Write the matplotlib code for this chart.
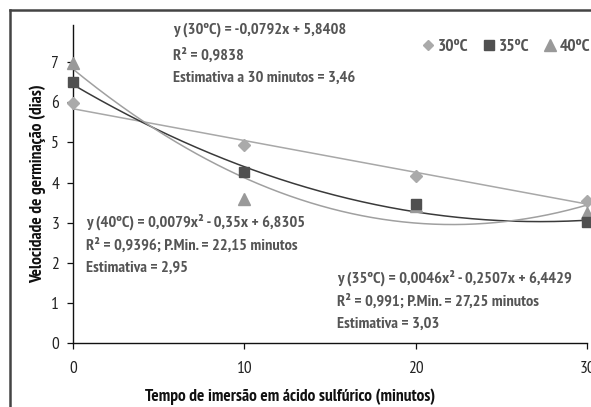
import matplotlib
matplotlib.use("Agg")
import matplotlib.pyplot as plt
import numpy as np
from matplotlib.lines import Line2D
from matplotlib import font_manager as fm

available = set(f.name for f in fm.fontManager.ttflist)
preferred = ['Liberation Sans Narrow', 'Arimo Narrow', 'PT Sans Narrow', 'Archivo Narrow',
             'Roboto Condensed', 'Asap Condensed', 'Liberation Sans']
chosen = [f for f in preferred if f in available] + ['DejaVu Sans']
plt.rcParams['font.family'] = chosen

times = [0, 10, 20, 30]
v30 = [5.98, 4.94, 4.17, 3.53]
v35 = [6.52, 4.26, 3.47, 3.02]
v40 = [6.99, 3.59, 3.42, 3.24]
series_names = ['30ºC', '35ºC', '40ºC']
coef30 = [-0.0792, 5.8408]
coef35 = [0.0046, -0.2507, 6.4429]
coef40 = [0.0079, -0.35, 6.8305]
xticks = [0, 10, 20, 30]
yticks = [0, 1, 2, 3, 4, 5, 6, 7]

W, H = 591, 407
fig = plt.figure(figsize=(W / 100, H / 100), dpi=100)
fig.patch.set_facecolor('white')

x0, x1 = 73, 587
y0, y1 = 343, 25
ax = fig.add_axes([x0 / W, 1 - y0 / H, (x1 - x0) / W, (y0 - y1) / H])
ax.set_xlim(0, 30)
ax.set_ylim(0, 7.93)
ax.patch.set_alpha(0)
for s in ['top', 'right']:
    ax.spines[s].set_visible(False)
for s in ['left', 'bottom']:
    ax.spines[s].set_linewidth(1.0)
    ax.spines[s].set_color('#111111')
ax.set_xticks(xticks)
ax.set_yticks(yticks)
ax.tick_params(axis='both', direction='out', length=4, width=0.9, colors='#111111',
               labelsize=12.5, labelcolor='#222222')
ax.tick_params(axis='x', pad=9)
ax.tick_params(axis='y', pad=6)

xs = np.linspace(0, 30, 300)
c30, c35, c40 = '#aaaaaa', '#505050', '#999999'
ax.plot(xs, np.polyval(coef30, xs), color='#a8a8a8', lw=1.1, clip_on=False, zorder=2)
ax.plot(xs, np.polyval(coef35, xs), color='#3a3a3a', lw=1.1, clip_on=False, zorder=2)
ax.plot(xs, np.polyval(coef40, xs), color='#a0a0a0', lw=1.1, clip_on=False, zorder=2)

ax.plot(times, v30, linestyle='none', marker='D', ms=6.5, color=c30, clip_on=False, zorder=3)
ax.plot(times, v40, linestyle='none', marker='^', ms=8, color=c40, clip_on=False, zorder=3)
ax.plot(times, v35, linestyle='none', marker='s', ms=7.5, color=c35, clip_on=False, zorder=4)

ax.set_xlabel('Tempo de imersão em ácido sulfúrico (minutos)', fontsize=12.5,
              fontweight='bold', color='#111111', labelpad=8)
ax.xaxis.label.set_x((290 - x0) / (x1 - x0))
ax.set_ylabel('Velocidade de germinação (dias)', fontsize=12.5,
              fontweight='bold', color='#111111', labelpad=4)

tc = '#555555'
fs = 11.8
def txt(px, py, s):
    fig.text(px / W, 1 - py / H, s, fontsize=fs, fontweight='bold', color=tc,
             ha='left', va='center')

txt(173, 30, 'y (30ºC) = -0,0792x + 5,8408')
txt(173, 55, 'R² = 0,9838')
txt(173, 78, 'Estimativa a 30 minutos = 3,46')

txt(86, 222, 'y (40ºC) = 0,0079x² - 0,35x + 6,8305')
txt(86, 245, 'R² = 0,9396; P.Min. = 22,15 minutos')
txt(86, 268, 'Estimativa = 2,95')

txt(337, 278, 'y (35ºC) = 0,0046x² - 0,2507x + 6,4429')
txt(337, 301, 'R² = 0,991; P.Min. = 27,25 minutos')
txt(337, 324, 'Estimativa = 3,03')

handles = [Line2D([], [], ls='none', marker='D', ms=5.5, color=c30),
           Line2D([], [], ls='none', marker='s', ms=7, color=c35),
           Line2D([], [], ls='none', marker='^', ms=8, color=c40)]
leg = fig.legend(handles, series_names, loc='center right', bbox_to_anchor=(590 / W, 1 - 47 / H),
                 ncol=3, frameon=False, handlelength=0.6, handletextpad=0.25,
                 columnspacing=0.9, borderaxespad=0, borderpad=0,
                 prop={'weight': 'bold', 'size': 12.5})
for t in leg.get_texts():
    t.set_color(tc)

fig.add_artist(Line2D([10 / W, 10 / W], [0, 1 - 10 / H], transform=fig.transFigure,
                      color='#444444', lw=1.8))
fig.add_artist(Line2D([10 / W, 1], [1 - 10 / H, 1 - 10 / H], transform=fig.transFigure,
                      color='#444444', lw=1.8))

fig.savefig('out.png', dpi=100)
